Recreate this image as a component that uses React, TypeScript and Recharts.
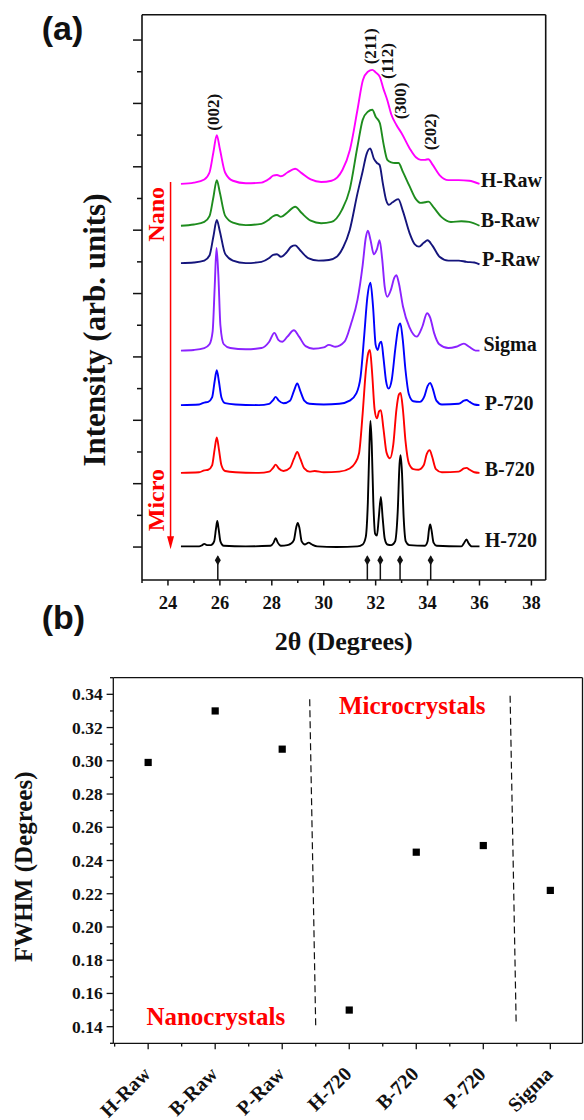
import React from 'react';
import { ComposedChart, Line, Scatter, XAxis, YAxis, ReferenceLine } from 'recharts';

const SERIF = '"Liberation Serif","Times New Roman",Times,serif';
const SANS = '"Liberation Sans",Arial,Helvetica,sans-serif';
const INK = '#111111';

// ---------------- Panel (a): XRD patterns, [2theta, intensity above baseline] ----------------
const H_RAW: [number, number][] = [[24.5,0],[25.0,0.02],[25.4,0.07],[25.6,0.18],[25.75,0.5],[25.88,0.77],[26.0,0.55],[26.2,0.18],[26.5,0.05],[27.0,0.01],[27.6,0.02],[27.9,0.08],[28.05,0.13],[28.2,0.14],[28.35,0.12],[28.6,0.18],[28.9,0.24],[29.15,0.17],[29.5,0.07],[29.9,0.03],[30.3,0.05],[30.72,0.22],[31.01,0.54],[31.3,1.17],[31.51,1.64],[31.7,1.77],[31.87,1.8],[32.0,1.76],[32.16,1.69],[32.3,1.5],[32.45,1.32],[32.6,1.1],[32.8,0.93],[33.0,0.8],[33.31,0.56],[33.55,0.42],[33.74,0.38],[33.9,0.38],[34.03,0.39],[34.2,0.3],[34.46,0.14],[34.8,0.06],[35.2,0.06],[35.6,0.05],[36.0,0.0]];
const B_RAW: [number, number][] = [[24.5,0],[25.0,0.02],[25.4,0.06],[25.6,0.15],[25.75,0.45],[25.88,0.72],[26.0,0.52],[26.2,0.16],[26.5,0.05],[27.0,0.01],[27.6,0.03],[27.9,0.1],[28.05,0.15],[28.2,0.17],[28.35,0.14],[28.6,0.21],[28.9,0.3],[29.15,0.2],[29.5,0.08],[29.9,0.04],[30.3,0.06],[30.7,0.25],[31.0,0.57],[31.3,1.25],[31.5,1.67],[31.7,1.8],[31.87,1.83],[32.0,1.72],[32.16,1.62],[32.3,1.3],[32.45,1.04],[32.6,1.0],[32.74,0.99],[32.88,0.99],[33.05,0.85],[33.31,0.62],[33.55,0.42],[33.74,0.36],[33.9,0.37],[34.03,0.38],[34.25,0.28],[34.53,0.14],[34.9,0.06],[35.3,0.07],[35.6,0.06],[36.0,0.0]];
const P_RAW: [number, number][] = [[24.5,0],[25.0,0.01],[25.4,0.04],[25.6,0.12],[25.75,0.42],[25.88,0.68],[26.0,0.5],[26.2,0.15],[26.5,0.04],[27.0,0.0],[27.6,0.02],[27.9,0.08],[28.05,0.13],[28.2,0.14],[28.35,0.1],[28.55,0.16],[28.75,0.26],[28.9,0.28],[29.1,0.2],[29.4,0.08],[29.8,0.04],[30.2,0.05],[30.5,0.1],[30.75,0.25],[31.0,0.52],[31.3,1.1],[31.5,1.45],[31.65,1.72],[31.79,1.81],[31.93,1.65],[32.05,1.58],[32.15,1.55],[32.28,1.25],[32.4,1.0],[32.51,0.92],[32.65,0.96],[32.87,1.01],[33.05,0.82],[33.31,0.47],[33.5,0.3],[33.67,0.26],[33.85,0.32],[34.0,0.36],[34.18,0.28],[34.46,0.1],[34.8,0.04],[35.2,0.04],[35.5,0.02],[35.8,0.01],[36.0,-0.02]];
const SIGMA: [number, number][] = [[24.5,0],[25.0,0.01],[25.4,0.04],[25.6,0.1],[25.72,0.3],[25.8,1.0],[25.87,1.62],[25.94,1.2],[26.02,0.4],[26.15,0.1],[26.4,0.04],[27.0,0.02],[27.6,0.04],[27.9,0.14],[28.1,0.28],[28.25,0.17],[28.4,0.14],[28.6,0.22],[28.85,0.32],[29.05,0.22],[29.3,0.07],[29.6,0.03],[30.0,0.05],[30.2,0.09],[30.45,0.06],[30.8,0.14],[31.05,0.42],[31.3,0.8],[31.5,1.35],[31.62,1.78],[31.7,1.89],[31.8,1.75],[31.93,1.52],[32.05,1.6],[32.15,1.74],[32.25,1.45],[32.35,1.0],[32.45,0.85],[32.58,0.95],[32.72,1.15],[32.8,1.19],[32.9,1.05],[33.05,0.7],[33.3,0.37],[33.58,0.22],[33.8,0.38],[33.98,0.59],[34.1,0.52],[34.25,0.28],[34.45,0.1],[34.8,0.04],[35.1,0.06],[35.4,0.11],[35.6,0.06],[35.85,0.0],[36.0,0.0]];
const P_720: [number, number][] = [[24.5,0],[25.2,0.01],[25.4,0.04],[25.55,0.05],[25.7,0.12],[25.8,0.38],[25.88,0.55],[25.96,0.38],[26.06,0.12],[26.2,0.03],[26.6,0.01],[27.5,0],[27.9,0.02],[28.05,0.08],[28.15,0.13],[28.27,0.07],[28.45,0.03],[28.7,0.07],[28.85,0.22],[28.98,0.34],[29.1,0.22],[29.25,0.07],[29.45,0.02],[30.0,0.01],[30.6,0.02],[31.0,0.07],[31.25,0.18],[31.42,0.45],[31.56,1.1],[31.68,1.7],[31.8,1.93],[31.9,1.55],[32.0,0.95],[32.08,0.87],[32.15,0.97],[32.22,1.0],[32.3,0.75],[32.4,0.38],[32.5,0.26],[32.62,0.4],[32.76,0.9],[32.88,1.24],[32.95,1.29],[33.04,1.05],[33.15,0.55],[33.28,0.17],[33.45,0.06],[33.7,0.05],[33.88,0.14],[34.0,0.3],[34.1,0.35],[34.2,0.26],[34.34,0.07],[34.55,0.01],[35.2,0.02],[35.4,0.07],[35.5,0.08],[35.62,0.05],[35.8,0.01],[36.0,0.0]];
const B_720: [number, number][] = [[24.5,0],[25.2,0.01],[25.4,0.04],[25.55,0.05],[25.7,0.12],[25.8,0.38],[25.88,0.56],[25.96,0.38],[26.06,0.12],[26.2,0.03],[26.6,0.01],[27.5,0],[27.9,0.02],[28.05,0.08],[28.15,0.13],[28.27,0.07],[28.45,0.03],[28.7,0.08],[28.85,0.22],[28.98,0.33],[29.1,0.22],[29.25,0.07],[29.45,0.02],[29.65,0.03],[30.0,0.01],[30.6,0.02],[31.0,0.07],[31.2,0.15],[31.36,0.31],[31.5,0.94],[31.62,1.6],[31.72,1.9],[31.78,1.94],[31.86,1.6],[31.96,1.0],[32.05,0.86],[32.13,0.97],[32.2,0.99],[32.3,0.7],[32.42,0.32],[32.55,0.23],[32.68,0.45],[32.8,1.0],[32.9,1.24],[32.96,1.26],[33.05,1.0],[33.15,0.5],[33.28,0.15],[33.45,0.06],[33.65,0.05],[33.85,0.12],[33.97,0.3],[34.08,0.36],[34.18,0.25],[34.32,0.06],[34.55,0.01],[35.2,0.02],[35.4,0.07],[35.5,0.08],[35.62,0.05],[35.8,0.01],[36.0,0.0]];
const H_720: [number, number][] = [[24.5,0],[25.2,0],[25.32,0.02],[25.4,0.04],[25.5,0.02],[25.65,0.02],[25.78,0.08],[25.85,0.28],[25.9,0.4],[25.95,0.28],[26.02,0.08],[26.15,0.01],[27.0,0],[27.95,0.01],[28.07,0.06],[28.15,0.13],[28.23,0.06],[28.35,0.01],[28.6,0.02],[28.72,0.04],[28.85,0.1],[28.94,0.3],[29.0,0.37],[29.06,0.3],[29.15,0.08],[29.28,0.03],[29.42,0.06],[29.55,0.03],[29.75,0.0],[30.5,-0.01],[31.3,0.0],[31.5,0.03],[31.62,0.15],[31.7,0.7],[31.76,1.6],[31.8,1.98],[31.85,1.6],[31.91,0.7],[31.98,0.2],[32.05,0.17],[32.12,0.45],[32.2,0.78],[32.27,0.45],[32.35,0.12],[32.45,0.03],[32.6,0.02],[32.75,0.08],[32.85,0.55],[32.92,1.3],[32.96,1.44],[33.01,1.2],[33.08,0.45],[33.16,0.08],[33.3,0.02],[33.9,0.01],[34.0,0.08],[34.06,0.28],[34.1,0.345],[34.15,0.26],[34.23,0.06],[34.35,0.01],[35.3,0.0],[35.4,0.05],[35.5,0.11],[35.58,0.05],[35.7,0.0],[36.0,0.0]];

const seriesNames = ['H-Raw', 'B-Raw', 'P-Raw', 'Sigma', 'P-720', 'B-720', 'H-720'];
const seriesPoints = [H_RAW, B_RAW, P_RAW, SIGMA, P_720, B_720, H_720];
const seriesOffsets = [5.73, 5.07, 4.48, 3.1, 2.24, 1.17, 0.01];
const seriesColors = ['#FF00FF', '#1E8C1E', '#15157C', '#8B22FF', '#0000FF', '#FF0000', '#000000'];
const nameLabelX = [36.05, 36.05, 36.1, 36.15, 36.2, 36.2, 36.2];
const nameLabelY = [5.79, 5.16, 4.54, 3.19, 2.27, 1.22, 0.1];

const peakLabels = ['(002)', '(211)', '(112)', '(300)', '(202)'];
const peakLabelX = [25.81, 31.86, 32.51, 33.01, 34.16];
const peakLabelY = [6.86, 7.9, 7.67, 7.04, 6.55];

const refPeakX = [25.92, 31.68, 32.18, 32.94, 34.12];

const sizeLabels = ['Nano', 'Micro'];
const sizeLabelX = [23.65, 23.62];
const sizeLabelY = [5.25, 0.74];

const xTicksA = [23, 24, 25, 26, 27, 28, 29, 30, 31, 32, 33, 34, 35, 36, 37, 38];
const yTicksA = [0, 0.5, 1, 1.5, 2, 2.5, 3, 3.5, 4, 4.5, 5, 5.5, 6, 6.5, 7, 7.5, 8];

// ---------------- Panel (b): FWHM ----------------
const samples = ['H-Raw', 'B-Raw', 'P-Raw', 'H-720', 'B-720', 'P-720', 'Sigma'];
const fwhm = [0.299, 0.33, 0.307, 0.15, 0.245, 0.249, 0.222];
const xTicksB = [0.5, 1, 1.5, 2, 2.5, 3, 3.5, 4, 4.5, 5, 5.5, 6, 6.5, 7];
const yTicksB = [0.13, 0.14, 0.15, 0.16, 0.17, 0.18, 0.19, 0.2, 0.21, 0.22, 0.23, 0.24, 0.25, 0.26, 0.27, 0.28, 0.29, 0.3, 0.31, 0.32, 0.33, 0.34, 0.35];
const dividerTop = [[3.41, 0.337], [6.4, 0.3392]];
const dividerBottom = [[3.5, 0.1397], [6.49, 0.1422]];
const regionLabels = ['Microcrystals', 'Nanocrystals'];
const regionX = [4.94, 2.01];
const regionY = [0.3316, 0.1446];

// ---------------- derived tables ----------------
const curveData = seriesPoints.map((pts, i) => pts.map(([x, v]) => ({ x, y: v + seriesOffsets[i] })));
const nameLabelData = seriesNames.map((t, i) => ({ x: nameLabelX[i], y: nameLabelY[i], t }));
const peakLabelData = peakLabels.map((t, i) => ({ x: peakLabelX[i], y: peakLabelY[i], t }));
const refPeakData = refPeakX.map((x) => ({ x, y: -0.21 }));
const sizeLabelData = sizeLabels.map((t, i) => ({ x: sizeLabelX[i], y: sizeLabelY[i], t }));
const fwhmData = samples.map((s, i) => ({ x: i + 1, y: fwhm[i], s }));
const regionData = regionLabels.map((t, i) => ({ x: regionX[i], y: regionY[i], t }));

// ---------------- custom renderers ----------------
const XTickA = (props: any) => {
  const { x, y, payload } = props;
  const v = payload.value;
  const major = v % 2 === 0;
  return (
    <g>
      <line x1={x} y1={y} x2={x} y2={y + (major ? 5.5 : 3)} stroke={INK} strokeWidth={1.5} />
      {major && (
        <text x={x} y={y + 29} textAnchor="middle" fontFamily={SERIF} fontWeight="bold" fontSize={18.5} fill={INK}>
          {v}
        </text>
      )}
    </g>
  );
};

const YTickA = (props: any) => {
  const { x, y, payload } = props;
  const major = Number.isInteger(payload.value);
  return <line x1={x - (major ? 9 : 5)} y1={y} x2={x} y2={y} stroke={INK} strokeWidth={1.5} />;
};

const XTickB = (props: any) => {
  const { x, y, payload } = props;
  const v = payload.value;
  const major = Number.isInteger(v);
  const tx = x + 3.5;
  const ty = y + 32;
  return (
    <g>
      <line x1={x} y1={y} x2={x} y2={y + (major ? 6 : 3.3)} stroke={INK} strokeWidth={1.3} />
      {major && (
        <text x={tx} y={ty} transform={`rotate(-45 ${tx} ${ty})`} textAnchor="end" fontFamily={SERIF} fontWeight="bold" fontSize={20} fill={INK}>
          {samples[v - 1]}
        </text>
      )}
    </g>
  );
};

const YTickB = (props: any) => {
  const { x, y, payload } = props;
  const v = payload.value;
  const major = Math.round(v * 100) % 2 === 0;
  return (
    <g>
      <line x1={x - (major ? 6.7 : 3.3)} y1={y} x2={x} y2={y} stroke={INK} strokeWidth={1.3} />
      {major && (
        <text x={x - 10.6} y={y + 6} textAnchor="end" fontFamily={SERIF} fontWeight="bold" fontSize={17.5} fill={INK}>
          {v.toFixed(2)}
        </text>
      )}
    </g>
  );
};

const NameLabel = (props: any) => (
  <text x={props.cx} y={props.cy + 6.5} textAnchor="start" fontFamily={SERIF} fontWeight="bold" fontSize={20} fill={INK}>
    {props.payload.t}
  </text>
);

const PeakLabel = (props: any) => {
  const bx = props.cx + 4;
  return (
    <text x={bx} y={props.cy} transform={`rotate(-90 ${bx} ${props.cy})`} textAnchor="middle" fontFamily={SERIF} fontWeight="bold" fontSize={17} fill={INK}>
      {props.payload.t}
    </text>
  );
};

const SizeLabel = (props: any) => {
  const bx = props.cx + 5.6;
  return (
    <text x={bx} y={props.cy} transform={`rotate(-90 ${bx} ${props.cy})`} textAnchor="middle" fontFamily={SERIF} fontWeight="bold" fontSize={24} fill="#FF0000">
      {props.payload.t}
    </text>
  );
};

const Diamond = (props: any) => {
  const { cx, cy } = props;
  return <polygon points={`${cx},${cy - 5} ${cx + 3},${cy} ${cx},${cy + 5} ${cx - 3},${cy}`} fill={INK} />;
};

const ArrowDown = (props: any) => {
  const { x1, y1, x2, y2 } = props;
  return (
    <g>
      <line x1={x1} y1={y1} x2={x2} y2={y2 - 10} stroke="#FF0000" strokeWidth={1.5} />
      <polygon points={`${x2 - 3.5},${y2 - 13} ${x2 + 3.5},${y2 - 13} ${x2},${y2}`} fill="#FF0000" />
    </g>
  );
};

const Square = (props: any) => {
  const { cx, cy } = props;
  return <rect x={cx - 3.6} y={cy - 3.6} width={7.2} height={7.2} fill="#000" />;
};

const RegionLabel = (props: any) => (
  <text x={props.cx} y={props.cy + 5.5} textAnchor="middle" fontFamily={SERIF} fontWeight="bold" fontSize={25} fill="#FF0000">
    {props.payload.t}
  </text>
);

export default function App() {
  return (
    <div style={{ position: 'absolute', left: 0, top: 0, width: 584, height: 1120, background: '#fff' }}>
      <div style={{ position: 'absolute', left: 0, top: 0 }}>
        <ComposedChart width={584} height={660} margin={{ top: 14.7, right: 38.3, bottom: 50, left: 132 }}>
          <XAxis type="number" dataKey="x" domain={[23, 38.55]} allowDataOverflow ticks={xTicksA} interval={0}
            tickSize={0} tickMargin={0} tickLine={false} axisLine={{ stroke: INK, strokeWidth: 1.6 }}
            tick={(p: any) => <XTickA {...p} />} height={30} />
          <YAxis type="number" dataKey="y" domain={[-0.52, 8.4]} allowDataOverflow ticks={yTicksA} interval={0}
            tickSize={0} tickMargin={0} tickLine={false} axisLine={{ stroke: INK, strokeWidth: 1.6 }}
            tick={(p: any) => <YTickA {...p} />} width={10} />
          <ReferenceLine y={8.4} stroke={INK} strokeWidth={1.6} />
          <ReferenceLine x={38.55} stroke={INK} strokeWidth={1.6} />
          {curveData.map((d, i) => (
            <Line key={seriesNames[i]} data={d} dataKey="y" type="monotone" stroke={seriesColors[i]} strokeWidth={1.9}
              dot={false} activeDot={false} isAnimationActive={false} />
          ))}
          {refPeakX.map((x) => (
            <ReferenceLine key={'s' + x} segment={[{ x, y: -0.52 }, { x, y: -0.15 }]} stroke={INK} strokeWidth={1.5} />
          ))}
          <Scatter data={refPeakData} dataKey="y" shape={(p: any) => <Diamond {...p} />} isAnimationActive={false} />
          <ReferenceLine segment={[{ x: 24.1, y: 5.76 }, { x: 24.1, y: -0.035 }]} stroke="#FF0000"
            shape={(p: any) => <ArrowDown {...p} />} />
          <Scatter data={nameLabelData} dataKey="y" shape={(p: any) => <NameLabel {...p} />} isAnimationActive={false} />
          <Scatter data={peakLabelData} dataKey="y" shape={(p: any) => <PeakLabel {...p} />} isAnimationActive={false} />
          <Scatter data={sizeLabelData} dataKey="y" shape={(p: any) => <SizeLabel {...p} />} isAnimationActive={false} />
        </ComposedChart>
      </div>
      <div style={{ position: 'absolute', left: 0, top: 660 }}>
        <ComposedChart width={584} height={460} margin={{ top: 17.7, right: 1.5, bottom: 46.7, left: 103.3 }}>
          <XAxis type="number" dataKey="x" domain={[0.48, 7.48]} allowDataOverflow ticks={xTicksB} interval={0}
            tickSize={0} tickMargin={0} tickLine={false} axisLine={{ stroke: INK, strokeWidth: 1.3 }}
            tick={(p: any) => <XTickB {...p} />} height={30} />
          <YAxis type="number" dataKey="y" domain={[0.13, 0.35]} allowDataOverflow ticks={yTicksB} interval={0}
            tickSize={0} tickMargin={0} tickLine={false} axisLine={{ stroke: INK, strokeWidth: 1.3 }}
            tick={(p: any) => <YTickB {...p} />} width={10} />
          <ReferenceLine y={0.35} stroke={INK} strokeWidth={1.3} />
          <ReferenceLine x={7.48} stroke={INK} strokeWidth={1.3} />
          {dividerTop.map((t, i) => (
            <ReferenceLine key={'d' + i}
              segment={[{ x: t[0], y: t[1] }, { x: dividerBottom[i][0], y: dividerBottom[i][1] }]}
              stroke={INK} strokeWidth={1.2} strokeDasharray="7 4" />
          ))}
          <Scatter data={fwhmData} dataKey="y" shape={(p: any) => <Square {...p} />} isAnimationActive={false} />
          <Scatter data={regionData} dataKey="y" shape={(p: any) => <RegionLabel {...p} />} isAnimationActive={false} />
        </ComposedChart>
      </div>
      <svg width={584} height={1120} style={{ position: 'absolute', left: 0, top: 0, pointerEvents: 'none' }}>
        <text x={41.7} y={39.6} fontFamily={SANS} fontWeight="bold" fontSize={34} fill={INK}>(a)</text>
        <text x={41.7} y={628.8} fontFamily={SANS} fontWeight="bold" fontSize={34} fill={INK}>(b)</text>
        <text x={104.8} y={330} transform="rotate(-90 104.8 330)" textAnchor="middle" fontFamily={SERIF} fontWeight="bold" fontSize={31} fill={INK}>
          Intensity (arb. units)
        </text>
        <text x={343.8} y={650} textAnchor="middle" fontFamily={SERIF} fontWeight="bold" fontSize={26} fill={INK}>
          2θ (Degrees)
        </text>
        <text x={31.9} y={866.7} transform="rotate(-90 31.9 866.7)" textAnchor="middle" fontFamily={SERIF} fontWeight="bold" fontSize={25} fill={INK}>
          FWHM (Degrees)
        </text>
      </svg>
    </div>
  );
}
